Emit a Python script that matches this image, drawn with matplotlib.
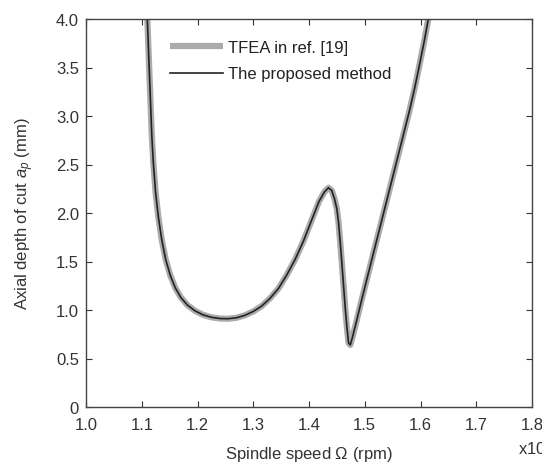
import matplotlib
matplotlib.use("Agg")
import matplotlib.pyplot as plt

plt.rcParams['font.family'] = ['Liberation Sans', 'DejaVu Sans']
plt.rcParams['mathtext.fontset'] = 'custom'
plt.rcParams['mathtext.rm'] = 'Liberation Sans'
plt.rcParams['mathtext.it'] = 'Liberation Sans:italic'

# Spindle speed (x10^4 rpm) and axial depth of cut (mm)
speed = [1.110, 1.112, 1.114, 1.116, 1.118, 1.121, 1.125, 1.130, 1.136, 1.143,
         1.151, 1.160, 1.170, 1.182, 1.196, 1.210, 1.225, 1.240, 1.255, 1.270,
         1.285, 1.300, 1.315, 1.330, 1.345, 1.360, 1.375, 1.390, 1.405, 1.418,
         1.428, 1.435, 1.441, 1.446, 1.450, 1.453, 1.456, 1.459, 1.462, 1.465,
         1.468, 1.471, 1.474, 1.478, 1.485, 1.493, 1.503, 1.514, 1.525, 1.536,
         1.547, 1.558, 1.569, 1.580, 1.590, 1.599, 1.607, 1.614]
depth = [4.00, 3.70, 3.40, 3.10, 2.80, 2.50, 2.20, 1.95, 1.72, 1.52,
         1.36, 1.23, 1.13, 1.05, 0.99, 0.950, 0.925, 0.912, 0.910, 0.920,
         0.945, 0.985, 1.04, 1.12, 1.22, 1.36, 1.52, 1.71, 1.93, 2.12,
         2.22, 2.26, 2.23, 2.14, 2.04, 1.90, 1.70, 1.48, 1.25, 1.02,
         0.82, 0.66, 0.64, 0.72, 0.88, 1.07, 1.30, 1.55, 1.80, 2.05,
         2.30, 2.55, 2.80, 3.05, 3.30, 3.55, 3.78, 4.00]

xticks = [1.0, 1.1, 1.2, 1.3, 1.4, 1.5, 1.6, 1.7, 1.8]
xticklabels = ['1.0', '1.1', '1.2', '1.3', '1.4', '1.5', '1.6', '1.7', '1.8']
yticks = [0, 0.5, 1.0, 1.5, 2.0, 2.5, 3.0, 3.5, 4.0]
yticklabels = ['0', '0.5', '1.0', '1.5', '2.0', '2.5', '3.0', '3.5', '4.0']

fig = plt.figure(figsize=(5.42, 4.64), dpi=100)
ax = fig.add_axes([86/542, 1-408/464, 446/542, 388/464])

ax.plot(speed, depth, color='#ababab', lw=4.5, solid_capstyle='butt', label='TFEA in ref. [19]')
ax.plot(speed, depth, color='#222222', lw=1.2, label='The proposed method')

ax.set_xlim(1.0, 1.8)
ax.set_ylim(0, 4.0)
ax.set_xticks(xticks)
ax.set_xticklabels(xticklabels)
ax.set_yticks(yticks)
ax.set_yticklabels(yticklabels)
ax.tick_params(direction='in', length=4, width=0.8, top=True, right=True,
               labelsize=12, colors='#333333')
ax.tick_params(axis='x', pad=7)
ax.tick_params(axis='y', pad=5)
for s in ax.spines.values():
    s.set_color('#444444')
    s.set_linewidth(1.0)

ax.set_xlabel(r'Spindle speed $\mathit{\Omega}$ (rpm)', fontsize=12, color='#333333', labelpad=9)
ax.set_ylabel(r'Axial depth of cut $a_p$ (mm)', fontsize=12, color='#333333', labelpad=14)
fig.text(518/542, 1-447/464, r'x10$^4$', fontsize=12, color='#333333', va='center', ha='left')

leg = ax.legend(loc='upper left', bbox_to_anchor=(0.155, 0.985), frameon=False,
                fontsize=12, handlelength=3.2, handletextpad=0.3, labelspacing=0.7)
for t in leg.get_texts():
    t.set_color('#222222')

fig.savefig('out.png', dpi=100)
